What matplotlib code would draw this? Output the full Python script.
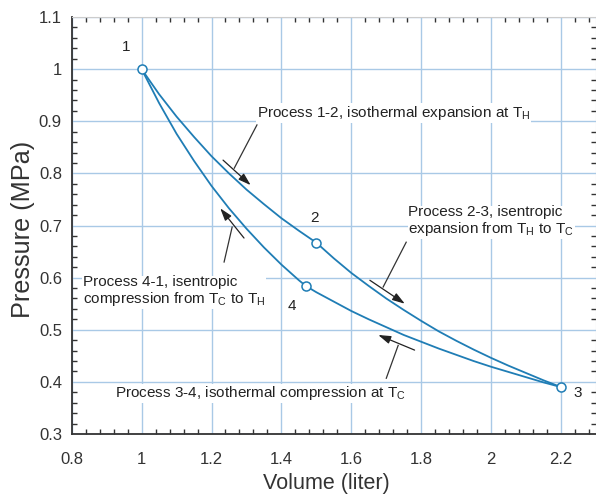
import matplotlib
matplotlib.use("Agg")
import matplotlib.pyplot as plt
from matplotlib.ticker import MultipleLocator
from matplotlib import font_manager

# ---- data ----
v12 = [1.00, 1.05, 1.10, 1.15, 1.20, 1.25, 1.30, 1.35, 1.40, 1.45, 1.50]
p12 = [1.000, 0.952, 0.909, 0.870, 0.833, 0.800, 0.769, 0.741, 0.714, 0.690, 0.667]

v23 = [1.50, 1.55, 1.60, 1.65, 1.70, 1.75, 1.80, 1.85, 1.90, 1.95, 2.00, 2.05, 2.10, 2.15, 2.20]
p23 = [0.667, 0.637, 0.609, 0.584, 0.560, 0.538, 0.517, 0.497, 0.479, 0.462, 0.446, 0.431, 0.417, 0.403, 0.390]

v34 = [2.20, 2.15, 2.10, 2.05, 2.00, 1.95, 1.90, 1.85, 1.80, 1.75, 1.70, 1.65, 1.60, 1.55, 1.50, 1.47]
p34 = [0.390, 0.399, 0.409, 0.419, 0.429, 0.440, 0.452, 0.464, 0.477, 0.490, 0.505, 0.520, 0.536, 0.554, 0.572, 0.584]

v41 = [1.47, 1.45, 1.40, 1.35, 1.30, 1.25, 1.20, 1.15, 1.10, 1.05, 1.00]
p41 = [0.584, 0.595, 0.625, 0.658, 0.694, 0.733, 0.776, 0.824, 0.876, 0.935, 1.000]

state_labels = ["1", "2", "3", "4"]
state_v = [1.00, 1.50, 2.20, 1.47]
state_p = [1.000, 0.667, 0.390, 0.584]

x_ticks = [0.8, 1.0, 1.2, 1.4, 1.6, 1.8, 2.0, 2.2]
x_ticklabels = ["0.8", "1", "1.2", "1.4", "1.6", "1.8", "2", "2.2"]
y_ticks = [0.3, 0.4, 0.5, 0.6, 0.7, 0.8, 0.9, 1.0, 1.1]
y_ticklabels = ["0.3", "0.4", "0.5", "0.6", "0.7", "0.8", "0.9", "1", "1.1"]

# ---- style ----
names = {f.name for f in font_manager.fontManager.ttflist}
fam = "Liberation Sans Narrow" if "Liberation Sans Narrow" in names else "Liberation Sans"
plt.rcParams['font.family'] = [fam, 'DejaVu Sans']
plt.rcParams['mathtext.default'] = 'regular'

curve_color = '#1f7db5'
grid_color = '#a9c9e6'
text_color = '#222222'

fig = plt.figure(figsize=(5.96, 5.01), dpi=100)
ax = fig.add_axes([0.1203, 0.1337, 0.8797, 0.8323])

for v, p in [(v12, p12), (v23, p23), (v34, p34), (v41, p41)]:
    ax.plot(v, p, color=curve_color, lw=1.3, zorder=3)
ax.plot(state_v, state_p, 'o', mfc='white', mec=curve_color, ms=6.5, mew=1.1, zorder=4)

ax.set_xlim(0.8, 2.3)
ax.set_ylim(0.3, 1.1)
ax.set_xticks(x_ticks)
ax.set_xticklabels(x_ticklabels)
ax.set_yticks(y_ticks)
ax.set_yticklabels(y_ticklabels)
ax.xaxis.set_minor_locator(MultipleLocator(0.04))
ax.yaxis.set_minor_locator(MultipleLocator(0.02))
ax.tick_params(which='both', direction='in', top=True, right=True, colors='#333333',
               labelsize=12, labelcolor='#333333')
ax.tick_params(which='major', length=0)
ax.tick_params(axis='x', which='major', pad=13)
ax.tick_params(axis='y', which='major', pad=7)
ax.tick_params(which='minor', length=3.5, width=1)
ax.grid(True, which='major', color=grid_color, lw=1.0)
ax.set_axisbelow(True)
for s in ['left', 'bottom']:
    ax.spines[s].set_color('#333333')
    ax.spines[s].set_linewidth(1.3)
for s in ['top', 'right']:
    ax.spines[s].set_color('#cccccc')
    ax.spines[s].set_linewidth(0.8)

ax.set_xlabel("Volume (liter)", fontsize=15.5, color='#333333', va='center')
ax.xaxis.set_label_coords(0.486, -0.1175)
ax.set_ylabel("Pressure (MPa)", fontsize=18.2, color='#333333', va='center')
ax.yaxis.set_label_coords(-0.093, 0.49)

# state labels
lab_pos = {"1": (0.955, 1.042), "2": (1.495, 0.714), "3": (2.248, 0.378), "4": (1.43, 0.545)}
for lab in state_labels:
    x, y = lab_pos[lab]
    ax.text(x, y, lab, fontsize=11, color=text_color, ha='center', va='center', zorder=5)

bbox = dict(facecolor='white', edgecolor='none', pad=0.5)
tfs = 11
ax.text(1.330, 0.916, "Process 1-2, isothermal expansion at T$_H$", fontsize=tfs,
        color=text_color, ha='left', va='center', bbox=bbox, zorder=5)
ax.text(1.763, 0.708, "Process 2-3, isentropic\nexpansion from T$_H$ to T$_C$", fontsize=tfs,
        color=text_color, ha='left', va='center', bbox=bbox, zorder=5, linespacing=1.1)
ax.text(0.832, 0.574, "Process 4-1, isentropic\ncompression from T$_C$ to T$_H$", fontsize=tfs,
        color=text_color, ha='left', va='center', bbox=bbox, zorder=5, linespacing=1.1)
ax.text(0.923, 0.378, "Process 3-4, isothermal compression at T$_C$", fontsize=tfs,
        color=text_color, ha='left', va='center', bbox=bbox, zorder=5)

arrows = [
    ((1.233, 0.8255), (1.312, 0.7775), (1.265, 0.810), (1.330, 0.893)),
    ((1.653, 0.595), (1.753, 0.550), (1.691, 0.582), (1.757, 0.668)),
    ((1.293, 0.676), (1.225, 0.733), (1.259, 0.697), (1.236, 0.630)),
    ((1.781, 0.461), (1.677, 0.490), (1.734, 0.470), (1.700, 0.407)),
]
for tail, head, l0, l1 in arrows:
    ax.annotate("", xy=head, xytext=tail,
                arrowprops=dict(arrowstyle='-|>,head_length=0.75,head_width=0.24',
                                color='#222222', lw=0.9, shrinkA=0, shrinkB=0), zorder=6)
    ax.plot([l0[0], l1[0]], [l0[1], l1[1]], color='#333333', lw=0.9, zorder=6)

fig.savefig("out.png", dpi=100)
